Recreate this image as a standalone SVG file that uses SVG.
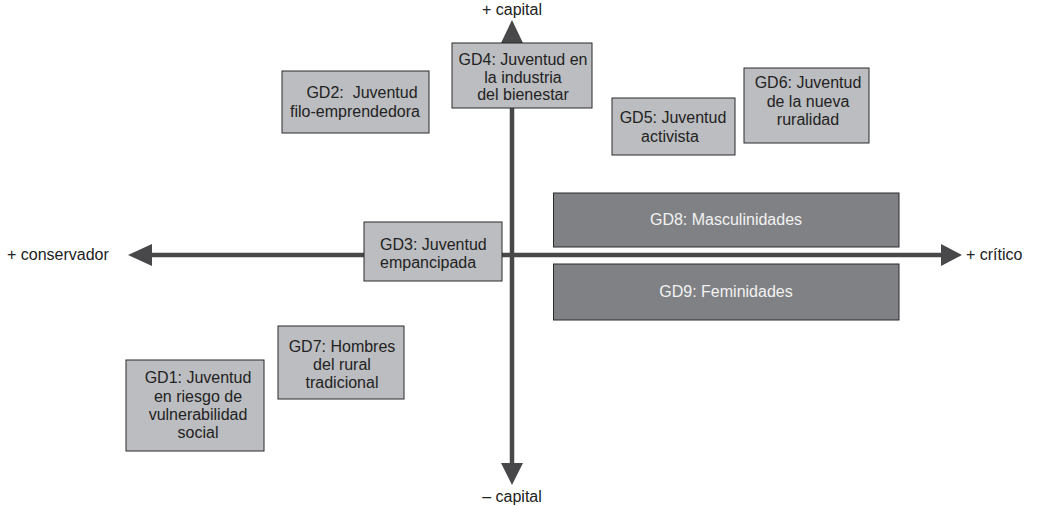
<svg xmlns="http://www.w3.org/2000/svg" width="1037" height="507" viewBox="0 0 1037 507">
<style>
text{font-family:"Liberation Sans",Arial,sans-serif;font-size:16px;fill:#222;}
.c{text-anchor:middle;}
.lt{fill:#bcbdc0;stroke:#2a2a2a;stroke-width:1;}
.dk{fill:#808184;stroke:#2a2a2a;stroke-width:1;}
.w{fill:#f2f2f2;}
.ax{stroke:#48484a;stroke-width:4.5;fill:none;}
.ah{fill:#48484a;}
</style>
<rect width="1037" height="507" fill="#fff"/>
<g id="connectors">
<line class="ax" x1="151" y1="255" x2="943" y2="255"/>
<polygon class="ah" points="128,255 152,244 152,266"/>
<polygon class="ah" points="962,255 941,244 941,266"/>
<line class="ax" x1="512" y1="42" x2="512" y2="464"/>
<polygon class="ah" points="512,20 501,43 523,43"/>
<polygon class="ah" points="512,485 501,463 523,463"/>
</g>
<g id="labels">
<text x="512" y="15" class="c">+ capital</text>
<text x="512" y="502" class="c">– capital</text>
<text x="7" y="260">+ conservador</text>
<text x="966" y="260">+ crítico</text>
</g>
<g id="gd2">
<rect class="lt" x="282" y="71" width="147" height="62"/>
<text x="362" y="98" class="c" style="white-space:pre">GD2:  Juventud</text>
<text x="355" y="117" class="c">filo-emprendedora</text>
</g>
<g id="gd4">
<rect class="lt" x="452" y="43" width="140" height="65"/>
<text x="523" y="65" class="c">GD4: Juventud en</text>
<text x="523" y="83" class="c">la industria</text>
<text x="523" y="100" class="c">del bienestar</text>
</g>
<g id="gd5">
<rect class="lt" x="612" y="98" width="123" height="57"/>
<text x="673" y="123" class="c">GD5: Juventud</text>
<text x="670" y="142" class="c">activista</text>
</g>
<g id="gd6">
<rect class="lt" x="744" y="68" width="125" height="75"/>
<text x="808" y="88" class="c">GD6: Juventud</text>
<text x="808" y="107" class="c">de la nueva</text>
<text x="808" y="125" class="c">ruralidad</text>
</g>
<g id="gd3">
<rect class="lt" x="364" y="222" width="138" height="59"/>
<text x="380" y="250">GD3: Juventud</text>
<text x="380" y="268">empancipada</text>
</g>
<g id="gd8">
<rect class="dk" x="553.5" y="193" width="345.5" height="54"/>
<text x="726" y="225" class="c w">GD8: Masculinidades</text>
</g>
<g id="gd9">
<rect class="dk" x="553.5" y="264" width="345.5" height="56"/>
<text x="726" y="297" class="c w">GD9: Feminidades</text>
</g>
<g id="gd7">
<rect class="lt" x="278" y="326" width="126" height="73"/>
<text x="342" y="352" class="c">GD7: Hombres</text>
<text x="342" y="370" class="c">del rural</text>
<text x="342" y="388" class="c">tradicional</text>
</g>
<g id="gd1">
<rect class="lt" x="126" y="360" width="138" height="91"/>
<text x="198" y="383" class="c">GD1: Juventud</text>
<text x="198" y="402" class="c">en riesgo de</text>
<text x="198" y="420" class="c">vulnerabilidad</text>
<text x="198" y="438" class="c">social</text>
</g>
</svg>
